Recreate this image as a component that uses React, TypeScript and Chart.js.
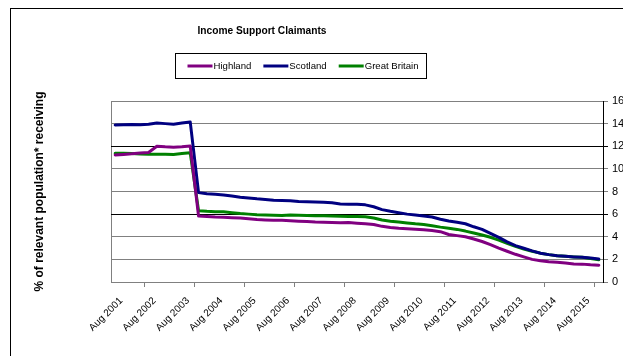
import { useEffect, useRef } from 'react';
import { Chart, registerables } from 'chart.js';

Chart.register(...registerables);

const TITLE = 'Income Support Claimants';
const Y_TITLE = '% of relevant population* receiving';

const CATEGORIES = [
  'Aug 2001', 'Nov 2001', 'Feb 2002', 'May 2002',
  'Aug 2002', 'Nov 2002', 'Feb 2003', 'May 2003',
  'Aug 2003', 'Nov 2003', 'Feb 2004', 'May 2004',
  'Aug 2004', 'Nov 2004', 'Feb 2005', 'May 2005',
  'Aug 2005', 'Nov 2005', 'Feb 2006', 'May 2006',
  'Aug 2006', 'Nov 2006', 'Feb 2007', 'May 2007',
  'Aug 2007', 'Nov 2007', 'Feb 2008', 'May 2008',
  'Aug 2008', 'Nov 2008', 'Feb 2009', 'May 2009',
  'Aug 2009', 'Nov 2009', 'Feb 2010', 'May 2010',
  'Aug 2010', 'Nov 2010', 'Feb 2011', 'May 2011',
  'Aug 2011', 'Nov 2011', 'Feb 2012', 'May 2012',
  'Aug 2012', 'Nov 2012', 'Feb 2013', 'May 2013',
  'Aug 2013', 'Nov 2013', 'Feb 2014', 'May 2014',
  'Aug 2014', 'Nov 2014', 'Feb 2015', 'May 2015',
  'Aug 2015', 'Nov 2015', 'Feb 2016',
];

const HIGHLAND = [
  11.23, 11.28, 11.33, 11.4, 11.45, 12.0, 11.95, 11.92, 11.95, 12.02,
  5.83, 5.8, 5.75, 5.72, 5.68, 5.65, 5.6, 5.52, 5.48, 5.45,
  5.45, 5.42, 5.38, 5.34, 5.3, 5.28, 5.26, 5.24, 5.25, 5.2,
  5.15, 5.08, 4.92, 4.82, 4.75, 4.7, 4.66, 4.62, 4.55, 4.45,
  4.2, 4.1, 4.0, 3.8, 3.58, 3.3, 3.0, 2.72, 2.45, 2.22,
  2.0, 1.88, 1.8, 1.74, 1.68, 1.6, 1.58, 1.52, 1.48,
];

const SCOTLAND = [
  13.88, 13.9, 13.92, 13.9, 13.95, 14.05, 14.0, 13.95, 14.05, 14.15,
  7.9, 7.8, 7.75, 7.7, 7.6, 7.5, 7.42, 7.35, 7.3, 7.22,
  7.2, 7.19, 7.12, 7.1, 7.07, 7.04, 7.0, 6.9, 6.88, 6.87,
  6.82, 6.65, 6.4, 6.25, 6.12, 6.0, 5.92, 5.83, 5.75, 5.55,
  5.4, 5.28, 5.15, 4.88, 4.65, 4.3, 3.95, 3.55, 3.22, 2.98,
  2.75, 2.54, 2.42, 2.33, 2.27, 2.22, 2.18, 2.12, 2.04,
];

const GREAT_BRITAIN = [
  11.38, 11.38, 11.35, 11.32, 11.29, 11.3, 11.3, 11.27, 11.35, 11.43,
  6.3, 6.25, 6.22, 6.2, 6.12, 6.05, 6.0, 5.95, 5.92, 5.9,
  5.87, 5.92, 5.9, 5.88, 5.86, 5.85, 5.84, 5.82, 5.8, 5.78,
  5.76, 5.65, 5.48, 5.38, 5.3, 5.22, 5.14, 5.08, 4.98, 4.85,
  4.75, 4.65, 4.5, 4.33, 4.16, 3.95, 3.7, 3.42, 3.15, 2.92,
  2.72, 2.55, 2.42, 2.33, 2.27, 2.22, 2.18, 2.08, 1.97,
];

const Y_MIN = 0;
const Y_MAX = 16;
const Y_STEP = 2;
const LABEL_EVERY = 4;
const TICK_MARK_EVERY = 6;
const TICK_MARK_START = 4;

const FONT = "'Liberation Sans', Arial, sans-serif";
const CANVAS_W = 700;
const CANVAS_H = 400;

const decorPlugin = {
  id: 'decor',
  afterDraw(chart: any) {
    const { ctx, chartArea } = chart;
    ctx.save();
    ctx.strokeStyle = '#000';
    ctx.lineWidth = 1;
    ctx.strokeRect(10.5, 8.5, chart.width + 20, chart.height + 20);

    ctx.fillStyle = '#000';
    ctx.font = `bold 10.2px ${FONT}`;
    ctx.textAlign = 'center';
    ctx.textBaseline = 'middle';
    ctx.fillText(TITLE, 262, 31);

    ctx.font = `9.6px ${FONT}`;
    const ds = chart.data.datasets;
    const widths = ds.map((d: any) => ctx.measureText(d.label).width);
    const sample = 25;
    const gapText = 1;
    const itemGap = 12;
    const padL = 12;
    const padR = 8;
    const total =
      padL +
      widths.reduce((s: number, w: number) => s + sample + gapText + w, 0) +
      itemGap * (ds.length - 1) +
      padR;
    const left = Math.round(300.5 - total / 2) + 0.5;
    const top = 53.5;
    const h = 25;
    ctx.strokeStyle = '#000';
    ctx.lineWidth = 1;
    ctx.strokeRect(left, top, Math.round(total), h);
    let x = left + padL;
    const cy = top + h / 2;
    ds.forEach((d: any, i: number) => {
      ctx.strokeStyle = d.borderColor;
      ctx.lineWidth = 3;
      ctx.beginPath();
      ctx.moveTo(x, cy);
      ctx.lineTo(x + sample, cy);
      ctx.stroke();
      ctx.fillStyle = '#000';
      ctx.textAlign = 'left';
      ctx.fillText(d.label, x + sample + gapText, cy);
      x += sample + gapText + widths[i] + itemGap;
    });

    ctx.save();
    ctx.translate(40, (chartArea.top + chartArea.bottom) / 2);
    ctx.rotate(-Math.PI / 2);
    ctx.font = `bold 12px ${FONT}`;
    ctx.textAlign = 'center';
    ctx.textBaseline = 'middle';
    ctx.fillStyle = '#000';
    ctx.fillText(Y_TITLE, 0, 0);
    ctx.restore();

    ctx.restore();
  },
};

export default function App() {
  const ref = useRef<HTMLCanvasElement | null>(null);

  useEffect(() => {
    if (!ref.current) return;
    const chart = new Chart(ref.current, {
      type: 'line',
      data: {
        labels: CATEGORIES,
        datasets: [
          { label: 'Highland', data: HIGHLAND, borderColor: '#800080', backgroundColor: '#800080' },
          { label: 'Scotland', data: SCOTLAND, borderColor: '#000080', backgroundColor: '#000080' },
          { label: 'Great Britain', data: GREAT_BRITAIN, borderColor: '#008000', backgroundColor: '#008000' },
        ].map((d) => ({
          ...d,
          borderWidth: 3,
          pointRadius: 0,
          tension: 0,
          borderJoinStyle: 'round' as const,
          borderCapStyle: 'round' as const,
        })),
      },
      options: {
        responsive: false,
        animation: false,
        devicePixelRatio: 1,
        layout: { padding: { left: 111, top: 101, right: 0, bottom: 0 } },
        plugins: {
          legend: { display: false },
          title: { display: false },
          tooltip: { enabled: false },
        },
        scales: {
          x: {
            type: 'category',
            offset: true,
            grid: {
              offset: true,
              drawOnChartArea: true,
              drawTicks: true,
              tickLength: 5,
              lineWidth: 1,
              color: (c: any) => (c.index === 0 ? '#808080' : 'rgba(0,0,0,0)'),
              tickColor: (c: any) =>
                c.index >= TICK_MARK_START && (c.index - TICK_MARK_START) % TICK_MARK_EVERY === 0
                  ? '#808080'
                  : 'rgba(0,0,0,0)',
            },
            border: { display: true, color: '#808080', width: 1 },
            ticks: {
              autoSkip: false,
              maxRotation: 45,
              minRotation: 45,
              padding: 8,
              labelOffset: 6,
              color: '#000',
              font: { family: FONT, size: 10 },
              callback: (_v: any, i: number) => (i % LABEL_EVERY === 0 ? CATEGORIES[i] : ''),
            },
            afterFit: (s: any) => {
              s.height = CANVAS_H - 282;
            },
          },
          y: {
            position: 'right',
            min: Y_MIN,
            max: Y_MAX,
            grid: {
              drawTicks: true,
              tickLength: 5,
              lineWidth: 1,
              color: (c: any) =>
                c.tick && (c.tick.value === 12 || c.tick.value === 6) ? '#000' : '#808080',
            },
            border: { display: true, color: '#000', width: 1 },
            ticks: {
              stepSize: Y_STEP,
              padding: 4,
              color: '#000',
              font: { family: FONT, size: 11 },
            },
            afterFit: (s: any) => {
              s.width = CANVAS_W - 603;
            },
          },
        },
      },
      plugins: [decorPlugin],
    });
    return () => chart.destroy();
  }, []);

  return (
    <div
      style={{
        position: 'fixed',
        left: 0,
        top: 0,
        width: 623,
        height: 356,
        overflow: 'hidden',
        background: '#fff',
      }}
    >
      <canvas ref={ref} width={CANVAS_W} height={CANVAS_H} style={{ display: 'block' }} />
    </div>
  );
}
